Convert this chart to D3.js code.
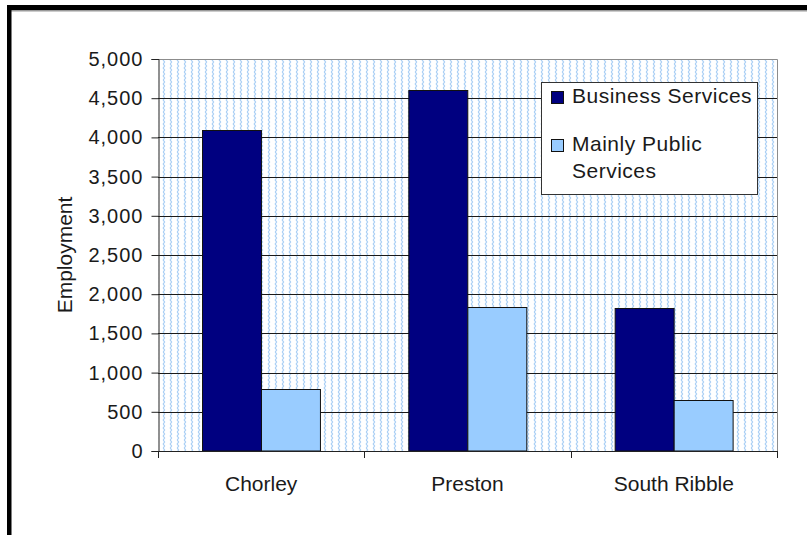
<!DOCTYPE html>
<html>
<head>
<meta charset="utf-8">
<script src="https://cdn.jsdelivr.net/npm/d3@7"></script>
<style>
  html, body { margin: 0; padding: 0; background: #fff; }
  svg { display: block; }
  text { font-family: "Liberation Sans", Arial, sans-serif; fill: #1a1a1a; }
</style>
</head>
<body>
<svg id="chart" width="807" height="535"></svg>
<script>
// Employment by district, two service groups
const categories = ["Chorley", "Preston", "South Ribble"];
const seriesNames = ["Business Services", "Mainly Public Services"];
const businessServices = [4100, 4600, 1820];
const mainlyPublicServices = [790, 1840, 650];
const yTicks = [0, 500, 1000, 1500, 2000, 2500, 3000, 3500, 4000, 4500, 5000];
const seriesColors = ["#000080", "#99ccff"];

const svg = d3.select("#chart");
const W = 807, H = 535;
const plot = { left: 158, right: 777, top: 59, bottom: 451 };

// Outer frame: heavy black rule on the top and left edges
svg.append("rect").attr("x", 0).attr("y", 0).attr("width", W).attr("height", H).attr("fill", "#fff");
svg.append("rect").attr("x", 7).attr("y", 10).attr("width", W - 7).attr("height", 1.5).attr("fill", "#9a9a9a");
svg.append("rect").attr("x", 7).attr("y", 5).attr("width", W - 7).attr("height", 5).attr("fill", "#000");
svg.append("rect").attr("x", 7).attr("y", 5).attr("width", 4.5).attr("height", H - 5).attr("fill", "#000");

// Wavy light-blue hatch used as the plot background
const defs = svg.append("defs");
const pat = defs.append("pattern")
  .attr("id", "wave")
  .attr("patternUnits", "userSpaceOnUse")
  .attr("width", 7).attr("height", 8);
pat.append("rect").attr("width", 7).attr("height", 8).attr("fill", "#fff");
pat.append("path")
  .attr("d", "M2.2,0 L3.6,2 L2.2,4 L3.6,6 L2.2,8")
  .attr("fill", "none")
  .attr("stroke", "#a9cff5")
  .attr("stroke-width", 1.2);

const x0 = d3.scaleBand().domain(categories).range([plot.left, plot.right]).padding(0);
const x1 = d3.scaleBand().domain(seriesNames).range([0, x0.bandwidth()])
  .paddingInner(0).paddingOuter(0.75);
const y = d3.scaleLinear().domain([0, 5000]).range([plot.bottom, plot.top]);

const g = svg.append("g");

g.append("rect")
  .attr("x", plot.left).attr("y", plot.top)
  .attr("width", plot.right - plot.left).attr("height", plot.bottom - plot.top)
  .attr("fill", "url(#wave)");

// Horizontal gridlines
g.append("g").selectAll("line")
  .data(yTicks.filter(v => v > 0 && v < 5000))
  .join("line")
  .attr("x1", plot.left).attr("x2", plot.right)
  .attr("y1", d => Math.round(y(d)) + 0.5).attr("y2", d => Math.round(y(d)) + 0.5)
  .attr("stroke", "#1a1a1a").attr("stroke-width", 1);

// Plot area border (top and right)
g.append("path")
  .attr("d", `M${plot.left},${plot.top + 0.5}H${plot.right + 0.5}V${plot.bottom}`)
  .attr("fill", "none").attr("stroke", "#8c8c8c").attr("stroke-width", 1);

// Bars
const rows = categories.map((c, i) => ({
  category: c,
  values: [
    { series: seriesNames[0], value: businessServices[i] },
    { series: seriesNames[1], value: mainlyPublicServices[i] }
  ]
}));
const groups = g.append("g").selectAll("g")
  .data(rows).join("g")
  .attr("transform", d => `translate(${x0(d.category)},0)`);
groups.selectAll("rect")
  .data(d => d.values).join("rect")
  .attr("x", d => Math.round(x1(d.series)) + 0.5)
  .attr("y", d => Math.round(y(d.value)) + 0.5)
  .attr("width", x1.bandwidth())
  .attr("height", d => y(0) - Math.round(y(d.value)) - 0.5)
  .attr("fill", (d, i) => seriesColors[i])
  .attr("stroke", "#111").attr("stroke-width", 1);

// Y axis
const yAxis = d3.axisLeft(y).tickValues(yTicks).tickSize(7).tickPadding(9)
  .tickFormat(d3.format(","));
const ya = svg.append("g").attr("transform", `translate(${plot.left + 0.5},0)`).call(yAxis);
ya.select(".domain").attr("stroke", "#222");
ya.selectAll(".tick line").attr("stroke", "#222");
ya.selectAll(".tick text")
  .attr("fill", "#1a1a1a")
  .attr("dx", "1px")
  .style("font-size", "20px")
  .style("letter-spacing", "1px")
  .style("font-family", "'Liberation Sans', Arial, sans-serif");

// X axis with ticks at category boundaries
const boundaries = categories.map(c => x0(c)).concat([plot.right]);
const xa = svg.append("g");
xa.append("line")
  .attr("x1", plot.left).attr("x2", plot.right + 1)
  .attr("y1", plot.bottom + 0.5).attr("y2", plot.bottom + 0.5)
  .attr("stroke", "#222");
xa.selectAll("line.tk").data(boundaries).join("line")
  .attr("class", "tk")
  .attr("x1", d => Math.round(d) + 0.5).attr("x2", d => Math.round(d) + 0.5)
  .attr("y1", plot.bottom).attr("y2", plot.bottom + 7)
  .attr("stroke", "#222");
xa.selectAll("text").data(categories).join("text")
  .attr("x", d => x0(d) + x0.bandwidth() / 2)
  .attr("y", 491)
  .attr("text-anchor", "middle")
  .style("font-size", "21px")
  .text(d => d);

// Y axis title
svg.append("text")
  .attr("transform", `translate(72,${(plot.top + plot.bottom) / 2}) rotate(-90)`)
  .attr("text-anchor", "middle")
  .style("font-size", "21px")
  .text("Employment");

// Legend
const lg = svg.append("g");
lg.append("rect")
  .attr("x", 541.5).attr("y", 82.5).attr("width", 216).attr("height", 112)
  .attr("fill", "#fff").attr("stroke", "#333").attr("stroke-width", 1);
const legendItems = [
  { color: seriesColors[0], lines: ["Business Services"], sy: 91 },
  { color: seriesColors[1], lines: ["Mainly Public", "Services"], sy: 139 }
];
legendItems.forEach(item => {
  lg.append("rect")
    .attr("x", 551.5).attr("y", item.sy + 0.5).attr("width", 12).attr("height", 12)
    .attr("fill", item.color).attr("stroke", "#111");
  item.lines.forEach((t, j) => {
    lg.append("text")
      .attr("x", 572).attr("y", item.sy + 12 + j * 27)
      .style("font-size", "21px")
      .style("letter-spacing", "0.5px")
      .text(t);
  });
});
</script>
</body>
</html>
